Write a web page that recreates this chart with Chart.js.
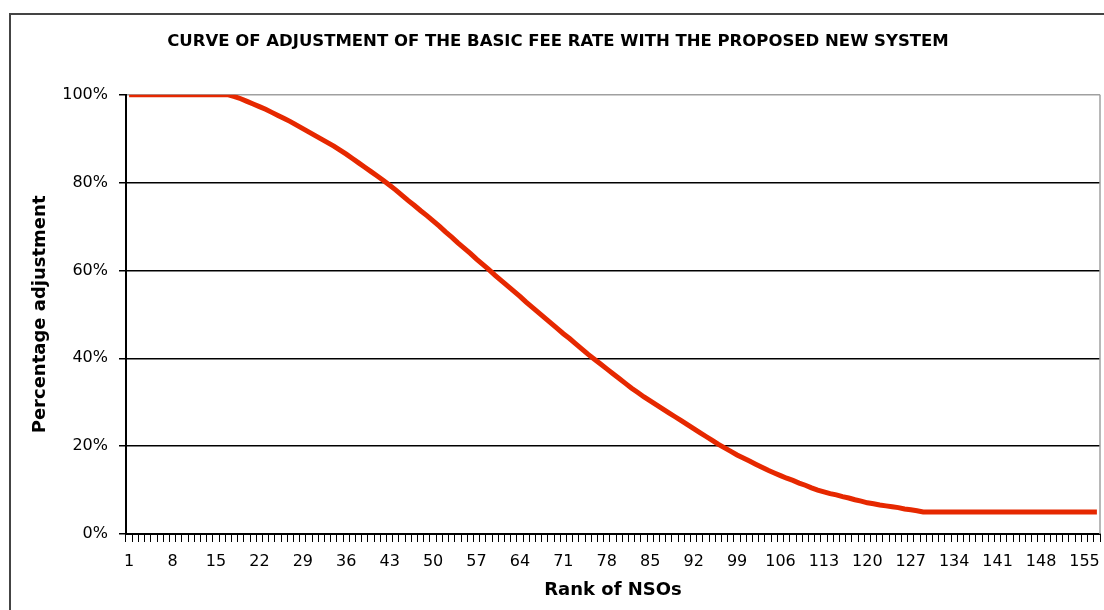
<!DOCTYPE html>
<html>
<head>
<meta charset="utf-8">
<script src="https://cdn.jsdelivr.net/npm/chart.js@4"></script>
<style>
  html, body { margin: 0; padding: 0; background: #fff; }
  #wrap { width: 1104px; height: 610px; }
</style>
</head>
<body>
<div id="wrap"><canvas id="fee-chart"></canvas></div>
<script>
// ranks 1..157
const ranks = [];
for (let r = 1; r <= 157; r++) ranks.push(String(r));

// percentage adjustment
const adjustment = [
  100, 100, 100, 100, 100, 100, 100, 100, 100, 100,
  100, 100, 100, 100, 100, 100, 100, 99.6, 99.1, 98.5,
  97.9, 97.3, 96.7, 96.0, 95.3, 94.6, 93.9, 93.1, 92.3, 91.5,
  90.7, 89.9, 89.1, 88.3, 87.4, 86.5, 85.5, 84.5, 83.5, 82.5,
  81.5, 80.5, 79.4, 78.3, 77.1, 75.9, 74.8, 73.6, 72.5, 71.3,
  70.1, 68.8, 67.6, 66.3, 65.1, 63.9, 62.6, 61.4, 60.2, 58.9,
  57.7, 56.5, 55.3, 54.1, 52.8, 51.6, 50.4, 49.2, 48.0, 46.8,
  45.6, 44.5, 43.3, 42.1, 40.9, 39.8, 38.7, 37.6, 36.5, 35.4,
  34.3, 33.2, 32.2, 31.2, 30.3, 29.4, 28.5, 27.6, 26.7, 25.8,
  24.9, 24.0, 23.1, 22.2, 21.3, 20.4, 19.6, 18.8, 18.0, 17.3,
  16.6, 15.9, 15.2, 14.5, 13.9, 13.3, 12.7, 12.2, 11.6, 11.1,
  10.5, 10.0, 9.6, 9.2, 8.9, 8.5, 8.2, 7.8, 7.5, 7.1,
  6.9, 6.6, 6.4, 6.2, 6.0, 5.7, 5.5, 5.3, 5, 5,
  5, 5, 5, 5, 5, 5, 5, 5, 5, 5,
  5, 5, 5, 5, 5, 5, 5, 5, 5, 5,
  5, 5, 5, 5, 5, 5, 5
];

const labelEvery = 7;

const frame = {
  id: 'frame',
  beforeDraw(chart) {
    const ctx = chart.ctx;
    ctx.save();
    ctx.strokeStyle = '#444';
    ctx.lineWidth = 2;
    ctx.strokeRect(10, 14, 1200, 700);
    ctx.restore();
  },
  afterDatasetsDraw(chart) {
    const { ctx, chartArea } = chart;
    ctx.save();
    ctx.strokeStyle = '#a0a0a0';
    ctx.lineWidth = 1.5;
    ctx.beginPath();
    ctx.moveTo(chartArea.right, chartArea.top);
    ctx.lineTo(chartArea.right, chartArea.bottom);
    ctx.stroke();
    ctx.restore();
  },
};

const feeChart = new Chart('fee-chart', {
  type: 'line',
  data: {
    labels: ranks,
    datasets: [{
      data: adjustment,
      borderColor: '#E62800',
      borderWidth: 5,
      pointRadius: 0,
      tension: 0,
    }],
  },
  options: {
    responsive: true,
    maintainAspectRatio: false,
    animation: false,
    layout: { padding: { left: 16, right: 4, top: 0, bottom: 0 } },
    plugins: {
      legend: { display: false },
      tooltip: { enabled: false },
      title: {
        display: true,
        text: 'CURVE OF ADJUSTMENT OF THE BASIC FEE RATE WITH THE PROPOSED NEW SYSTEM',
        color: '#000',
        font: { family: 'DejaVu Sans', size: 16.5, weight: 'bold' },
        padding: { top: 32, bottom: 43 },
      },
    },
    scales: {
      x: {
        offset: true,
        afterFit(scale) {
          scale.height = 76;
          scale.paddingLeft = 0;
          scale.paddingRight = 0;
        },
        grid: {
          offset: true,
          drawOnChartArea: false,
          drawTicks: true,
          tickLength: 8,
          color: '#000',
        },
        border: { color: '#000', width: 2 },
        ticks: {
          autoSkip: false,
          maxRotation: 0,
          padding: 10,
          color: '#000',
          font: { family: 'DejaVu Sans', size: 16 },
          callback: (v, i) => (i % labelEvery === 0 ? ranks[i] : ''),
        },
        title: {
          display: true,
          text: 'Rank of NSOs',
          color: '#000',
          font: { family: 'DejaVu Sans', size: 18, weight: 'bold' },
          padding: { top: 0, bottom: 9 },
        },
      },
      y: {
        min: 0,
        max: 100,
        afterFit(scale) { scale.width = 110; },
        grid: {
          color: (ctx) => (ctx.tick && ctx.tick.value === 100 ? '#a0a0a0' : '#000'),
          tickColor: '#000',
          lineWidth: 1.5,
          tickLength: 7,
        },
        border: { color: '#000', width: 2 },
        ticks: {
          stepSize: 20,
          padding: 11,
          color: '#000',
          font: { family: 'DejaVu Sans', size: 16 },
          callback: (v) => v + '%',
        },
        title: {
          display: true,
          text: 'Percentage adjustment',
          color: '#000',
          font: { family: 'DejaVu Sans', size: 18, weight: 'bold' },
          padding: { top: 14, bottom: 0 },
        },
      },
    },
  },
  plugins: [frame],
});
</script>
</body>
</html>
